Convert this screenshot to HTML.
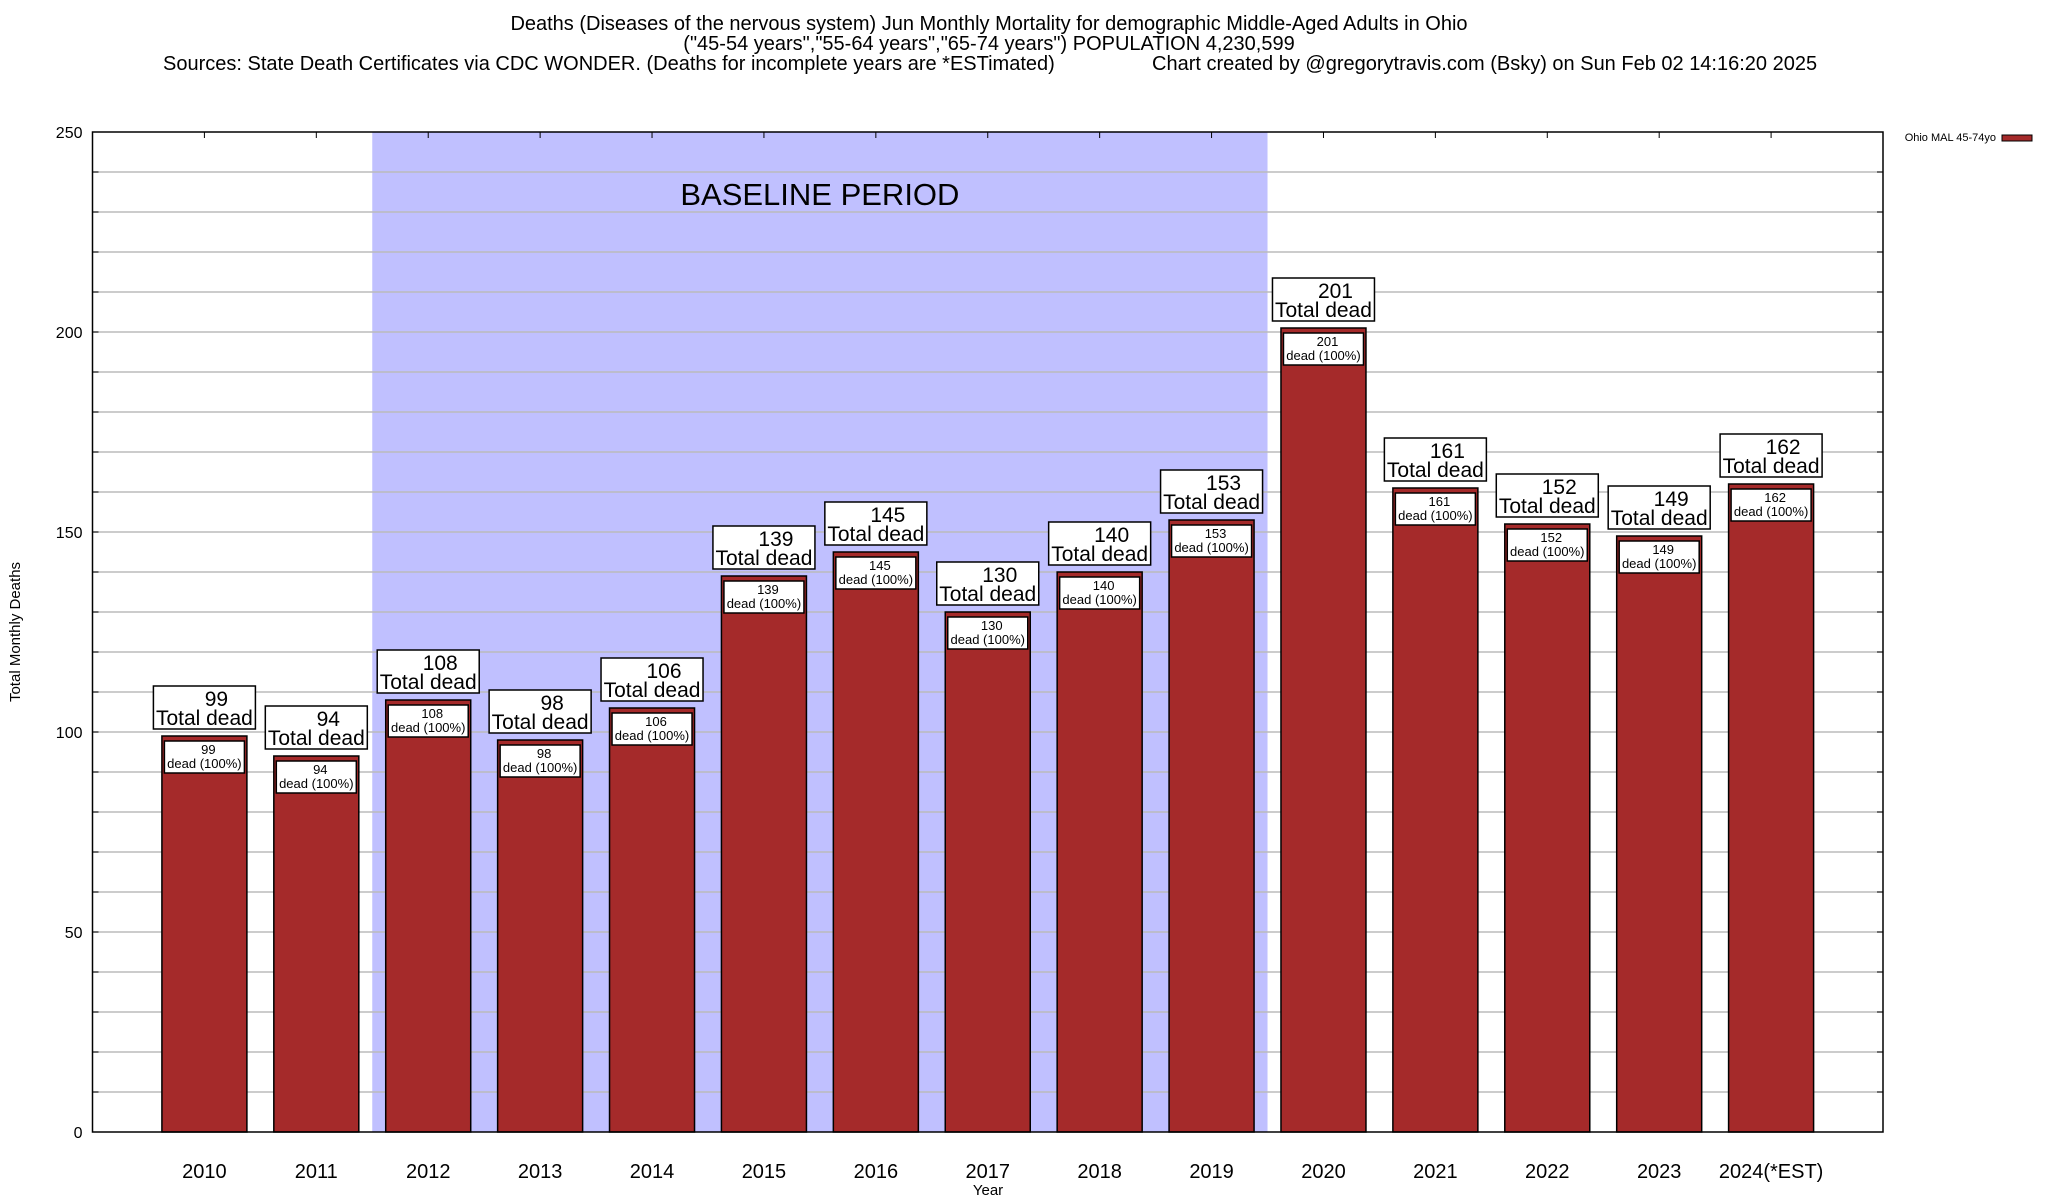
<!DOCTYPE html>
<html><head><meta charset="utf-8"><style>
html,body{margin:0;padding:0;background:#fff;}
svg{display:block;font-family:"Liberation Sans",Arial,sans-serif;}
</style></head><body>
<svg id="chart" width="2048" height="1200" viewBox="0 0 2048 1200">
<g font-size="20" fill="#000">
<text x="989" y="30" text-anchor="middle">Deaths (Diseases of the nervous system) Jun Monthly Mortality for demographic Middle-Aged Adults in Ohio</text>
<text x="989" y="50" text-anchor="middle">("45-54 years","55-64 years","65-74 years") POPULATION 4,230,599</text>
<text x="163" y="70">Sources: State Death Certificates via CDC WONDER. (Deaths for incomplete years are *ESTimated)</text>
<text x="1152" y="70">Chart created by @gregorytravis.com (Bsky) on Sun Feb 02 14:16:20 2025</text>
</g>
<g id="plot"></g>
<g>
<text x="1996" y="141" font-size="11" text-anchor="end">Ohio MAL 45-74yo</text>
<rect x="2002" y="135" width="30" height="6" fill="#a52a2a" stroke="#000" stroke-width="1"/>
</g>
<text x="20" y="632" font-size="15" text-anchor="middle" transform="rotate(-90 20 632)">Total Monthly Deaths</text>
<text x="988" y="1195" font-size="15" text-anchor="middle">Year</text>
</svg>
<script>
const categories = ["2010","2011","2012","2013","2014","2015","2016","2017","2018","2019","2020","2021","2022","2023","2024(*EST)"];
const deaths = [99,94,108,98,106,139,145,130,140,153,201,161,152,149,162];
const yTicks = [0,50,100,150,200,250];
const baselineStart = 2.5, baselineEnd = 10.5;

const L=92.5,R=1883,T=132,B=1132,yMax=250,xMax=16;
const ns="http://www.w3.org/2000/svg";
const g=document.getElementById('plot');
function x(v){return L+(R-L)*v/xMax;}
function y(v){return B-(B-T)*v/yMax;}
function mk(tag,attrs,parent){const e=document.createElementNS(ns,tag);for(const k in attrs)e.setAttribute(k,attrs[k]);(parent||g).appendChild(e);return e;}

const sh=mk('rect',{x:x(baselineStart),y:T,width:x(baselineEnd)-x(baselineStart),height:B-T,fill:'#c0c0ff'});


const bt=mk('text',{x:(x(baselineStart)+x(baselineEnd))/2,y:205,'font-size':31,'text-anchor':'middle'});
bt.textContent='BASELINE PERIOD';



for(let v=10;v<yMax;v+=10){
  const ln=mk('line',{x1:L,x2:R,y1:y(v),y2:y(v),stroke:'#bbb','stroke-width':1.5});
  
  
  mk('line',{x1:L,x2:L+6,y1:y(v),y2:y(v),stroke:'#000','stroke-width':1});
  mk('line',{x1:R-6,x2:R,y1:y(v),y2:y(v),stroke:'#000','stroke-width':1});
}
yTicks.forEach(v=>{
  const t=mk('text',{x:L-10,y:y(v)+6,'font-size':16,'text-anchor':'end'});
  t.textContent=v;
  
  
});

const bw=85;
categories.forEach((c,i)=>{
  const cx=x(i+1), v=deaths[i], top=y(v);
  mk('line',{x1:cx,x2:cx,y1:T,y2:T+6,stroke:'#000','stroke-width':1});
  const r=mk('rect',{x:cx-bw/2,y:top,width:bw,height:B-top,fill:'#a52a2a',stroke:'#000','stroke-width':1.5});
  
  
  const ib=mk('rect',{x:cx-40,y:top+5,width:80,height:32,fill:'#fff',stroke:'#000','stroke-width':1.5});
  
  
  const t1=mk('text',{x:cx+4,y:top+18,'font-size':13,'text-anchor':'middle'});t1.textContent=v;
  const t2=mk('text',{x:cx,y:top+32,'font-size':13,'text-anchor':'middle'});t2.textContent='dead (100%)';
  
  
  
  
  const ob=mk('rect',{x:cx-51,y:top-50,width:102,height:43,fill:'#fff',stroke:'#000','stroke-width':1.5});
  
  
  const o1=mk('text',{x:cx+12,y:top-30,'font-size':21,'text-anchor':'middle'});o1.textContent=v;
  const o2=mk('text',{x:cx,y:top-11,'font-size':21,'text-anchor':'middle'});o2.textContent='Total dead';
  
  
  
  
  const xl=mk('text',{x:cx,y:1178,'font-size':20,'text-anchor':'middle'});xl.textContent=c;
  
  
});
const fr=mk('rect',{x:L,y:T,width:R-L,height:B-T,fill:'none',stroke:'#000','stroke-width':1.5});


</script>
</body></html>
